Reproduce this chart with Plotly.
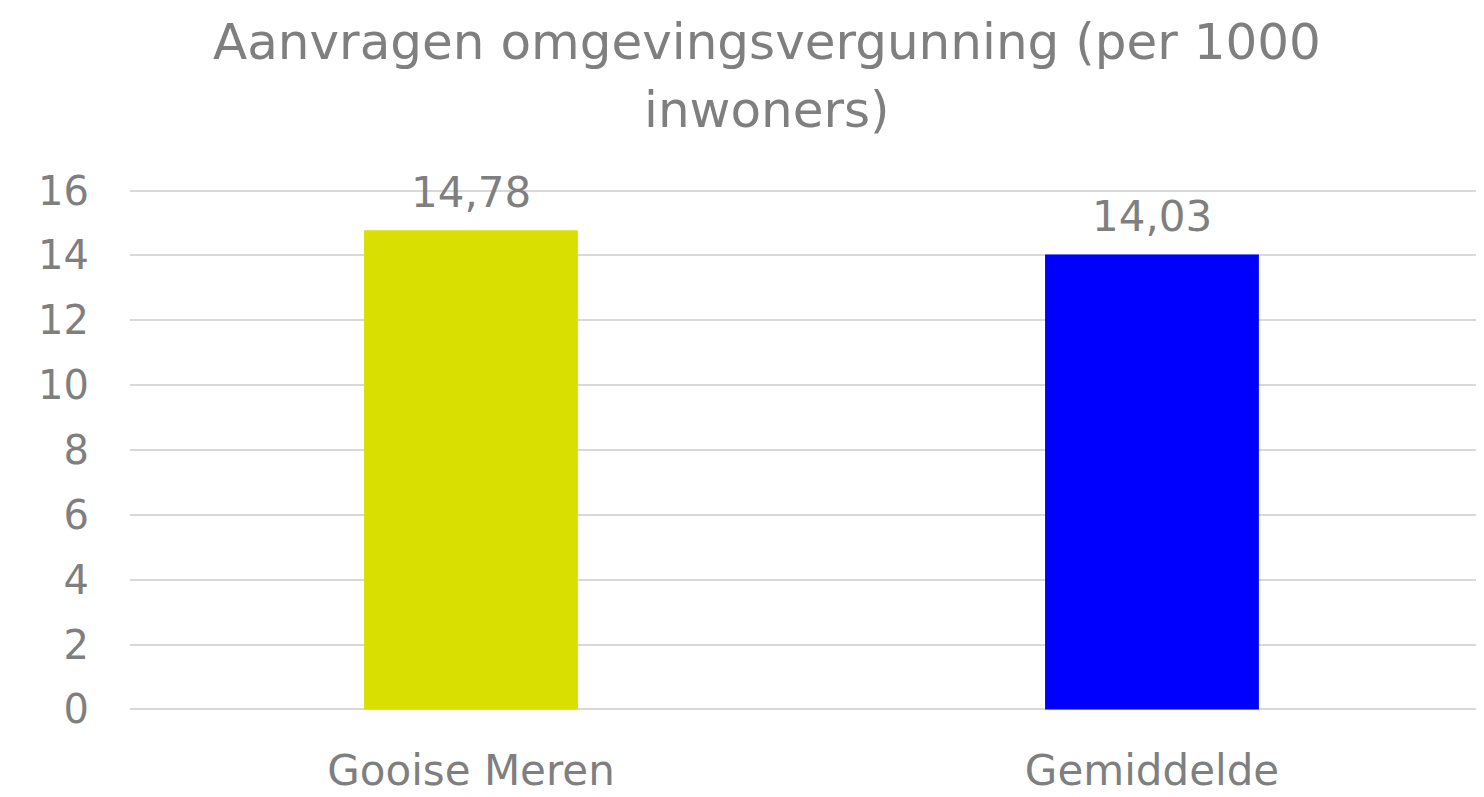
import plotly.graph_objects as go

categories = ["Gooise Meren", "Gemiddelde"]
values = [14.78, 14.03]
labels = ["14,78", "14,03"]
colors = ["#D9E000", "#0000FF"]
y_ticks = [0, 2, 4, 6, 8, 10, 12, 14, 16]
title_lines = ["Aanvragen omgevingsvergunning (per 1000", "inwoners)"]

grey = "#7F7F7F"
font_family = "'DejaVu Sans', sans-serif"

xs = list(range(len(categories)))

fig = go.Figure()
fig.add_trace(go.Bar(
    x=xs,
    y=values,
    width=0.314,
    marker=dict(color=colors, line=dict(width=0)),
    cliponaxis=False,
))

for x, v, t in zip(xs, values, labels):
    fig.add_annotation(
        x=x, y=v, text=t, showarrow=False,
        xanchor="center", yanchor="middle", yshift=38,
        font=dict(size=42, color=grey, family=font_family),
    )

for ty, t in zip([1.281, 1.152], title_lines):
    fig.add_annotation(
        x=0.4677, xref="paper", y=ty, yref="paper", text=t, showarrow=False,
        xanchor="center", yanchor="middle",
        font=dict(size=50, color=grey, family=font_family),
    )

fig.update_layout(
    width=1484, height=797,
    margin=dict(l=122, r=0, t=181, b=94),
    paper_bgcolor="white", plot_bgcolor="white",
    showlegend=False,
    xaxis=dict(
        range=[-0.5007, 1.4993],
        tickvals=xs,
        ticktext=categories,
        tickfont=dict(size=42, color=grey, family=font_family),
        showgrid=False, zeroline=False, showline=False,
        ticks="", ticklabelstandoff=31,
    ),
    yaxis=dict(
        range=[-0.05, 16.05],
        tickvals=y_ticks,
        tickfont=dict(size=40, color=grey, family=font_family),
        showgrid=True, gridcolor="#D9D9D9", gridwidth=1.5,
        zeroline=False, showline=False, ticks="",
        ticklabelstandoff=40,
    ),
)

fig.write_html("out.html")
